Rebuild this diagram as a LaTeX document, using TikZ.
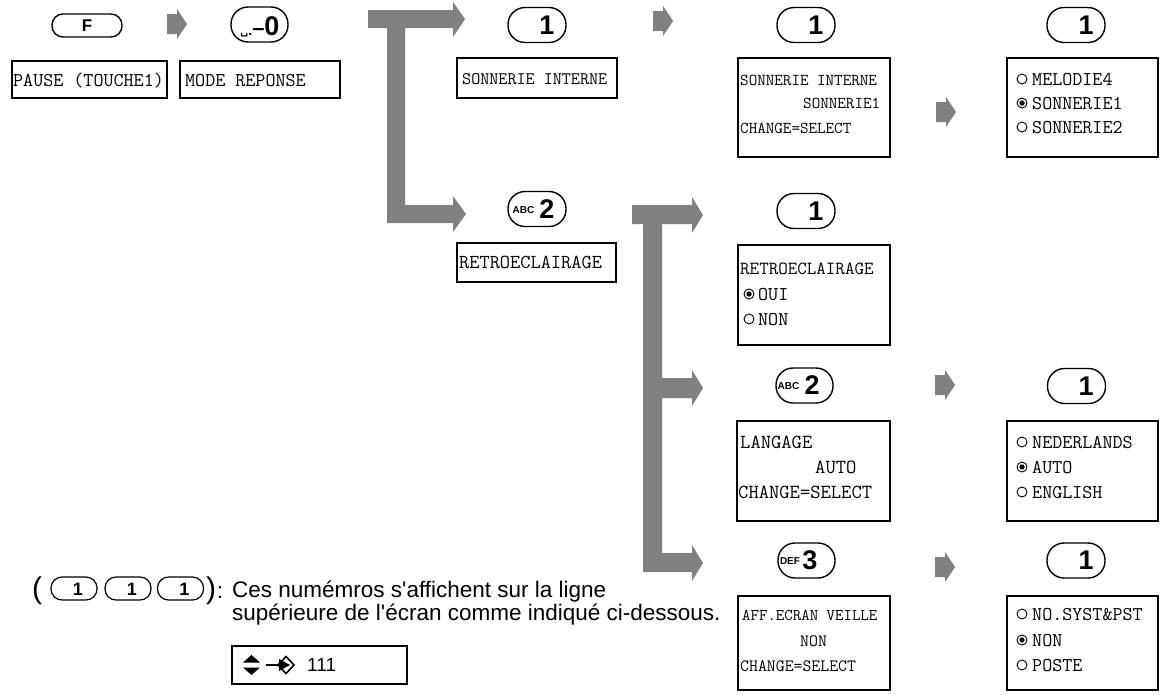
\documentclass[tikz,border=0pt]{standalone}
\usepackage{fontspec}
\usepackage{graphicx}
\newfontfamily\lsans{Liberation Sans}
\newfontfamily\djv{DejaVu Sans}
\definecolor{agray}{RGB}{128,128,128}
\tikzset{
  box/.style={draw, line width=1.4pt, inner sep=0, rectangle},
  keyA/.style={draw, line width=1.4pt, rounded corners=17pt, minimum width=58pt, minimum height=35pt, inner sep=0},
  keyF/.style={draw, line width=1.4pt, rounded corners=11pt, minimum width=70pt, minimum height=23pt, inner sep=0},
  keyS/.style={draw, line width=1.2pt, rounded corners=11pt, minimum width=46pt, minimum height=23pt, inner sep=0},
  lbl/.style={font=\lsans\bfseries\fontsize{27}{27}\selectfont, inner sep=0},
  lblsmall/.style={font=\lsans\bfseries\fontsize{10}{10}\selectfont, inner sep=0},
  tt/.style={font=\ttfamily\fontsize{19.5}{19.5}\selectfont, inner sep=0, anchor=base west},
  ttn/.style={font=\ttfamily\fontsize{16.6}{16.6}\selectfont, inner sep=0, anchor=base west},
  radio/.style={circle, draw, line width=0.9pt, minimum size=10pt, inner sep=0},
  radiosel/.style={radio, path picture={\fill (path picture bounding box.center) circle (2.7pt);}},
  sans/.style={font=\lsans\fontsize{22.5}{22.5}\selectfont, inner sep=0},
  sarrow/.pic={\fill[agray] (0,-10) -- (10,-10) -- (10,-15) -- (20,0) -- (10,15) -- (10,10) -- (0,10) -- cycle;}
}
\begin{document}
\begin{tikzpicture}[x=1pt,y=-1pt]
\useasboundingbox (0,0) rectangle (1160,694);

% ---------- Row 1 ----------
\node[keyF] (kF) at (87,25.5) {};
\node[font=\lsans\bfseries\fontsize{17}{17}\selectfont, inner sep=0] (lF) at (87,25.5) {F};
\pic at (167,24) {sarrow};
\node[keyA, minimum width=57pt] (k0) at (259.5,24.5) {};
\node[inner sep=0, anchor=base] (l0) at (260,35) {\lsans\bfseries\raisebox{1pt}{\djv\fontsize{11}{11}\selectfont ␣}{\fontsize{14}{14}\selectfont .}{\fontsize{22}{22}\selectfont –}\fontsize{27}{27}\selectfont 0};

\node[box, minimum width=155pt, minimum height=37pt] (bPause) at (89.5,79.5) {};
\node[tt] (tPause) at (13,86) {PAUSE (TOUCHE1)};
\node[box, minimum width=160pt, minimum height=37pt] (bMode) at (260,79.5) {};
\node[tt] (tMode) at (185,86) {MODE REPONSE};

% T arrow 1
\fill[agray] (368,10) -- (453,10) -- (453,2) -- (465,19) -- (453,37) -- (453,28) -- (405,28) -- (405,205)
  -- (453,205) -- (453,196) -- (466,214) -- (453,232) -- (453,223) -- (387,223) -- (387,28) -- (368,28) -- cycle;

\node[keyA] (k1a) at (537,25) {};
\node[lbl] (l1a) at (547,25) {1};
\node[box, minimum width=160pt, minimum height=40pt] (bSon1) at (537,78) {};
\node[tt, font=\ttfamily\fontsize{17.6}{17.6}\selectfont] (tSon1) at (462,84) {SONNERIE INTERNE};
\pic at (653,21) {sarrow};

\node[keyA] (k1b) at (806,25) {};
\node[lbl] (l1b) at (816,25) {1};
\node[box, minimum width=152pt, minimum height=99pt] (bSon2) at (814,107.5) {};
\node[ttn] (tSon2a) at (740,85) {SONNERIE INTERNE};
\node[ttn] (tSon2b) at (803,108) {SONNERIE1};
\node[ttn] (tSon2c) at (740,133) {CHANGE=SELECT};
\pic at (936,112) {sarrow};

\node[keyA] (k1c) at (1076,25) {};
\node[lbl] (l1c) at (1086,25) {1};
\node[box, minimum width=151pt, minimum height=99pt] (bSon3) at (1082.5,107.5) {};
\node[radio] (rS1) at (1022,79) {};
\node[radiosel] (rS2) at (1022,103) {};
\node[radio] (rS3) at (1022,127) {};
\node[tt] (tS1) at (1032,85) {MELODIE4};
\node[tt] (tS2) at (1032,109) {SONNERIE1};
\node[tt] (tS3) at (1032,133) {SONNERIE2};

% ---------- Row 2 ----------
\node[keyA] (k2a) at (537,209) {};
\node[lblsmall] (l2aa) at (523.5,210) {ABC};
\node[lbl] (l2ab) at (547,209) {2};
\node[box, minimum width=159pt, minimum height=39pt] (bRetro) at (536.5,262.5) {};
\node[tt, font=\ttfamily\fontsize{19.8}{19.8}\selectfont] (tRetro) at (459,268) {RETROECLAIRAGE};

% T arrow 2
\fill[agray] (632,205) -- (692,205) -- (692,197) -- (703,215) -- (692,233) -- (692,224) -- (662,224) -- (662,378)
  -- (692,378) -- (692,370) -- (703,388) -- (692,406) -- (692,398) -- (662,398) -- (662,553)
  -- (692,553) -- (692,545) -- (703,563) -- (692,581) -- (692,572) -- (643,572) -- (643,224) -- (632,224) -- cycle;

\node[keyA] (k1d) at (806,211) {};
\node[lbl] (l1d) at (816,211) {1};
\node[box, minimum width=152pt, minimum height=100pt] (bRetro2) at (814,295) {};
\node[tt, font=\ttfamily\fontsize{18.5}{18.5}\selectfont] (tR1) at (740,274) {RETROECLAIRAGE};
\node[radiosel] (rR1) at (749,294) {};
\node[tt] (tR2) at (758,300) {OUI};
\node[radio] (rR2) at (749,319) {};
\node[tt] (tR3) at (758,325) {NON};

% ---------- Row 3 ----------
\pic at (935,385) {sarrow};
\node[keyA, minimum width=57pt] (k3a) at (804.5,385.5) {};
\node[lblsmall] (l3aa) at (788.5,386) {ABC};
\node[lbl] (l3ab) at (812,385.5) {2};
\node[box, minimum width=153pt, minimum height=100pt] (bLang) at (813.5,471) {};
\node[tt, font=\ttfamily\fontsize{20}{20}\selectfont] (tL1) at (740,448) {LANGAGE};
\node[tt, font=\ttfamily\fontsize{20}{20}\selectfont] (tL2) at (815,473) {AUTO};
\node[tt, font=\ttfamily\fontsize{20}{20}\selectfont] (tL3) at (738,498) {CHANGE=SELECT};

\node[keyA] (k1e) at (1076.5,386) {};
\node[lbl] (l1e) at (1086,386) {1};
\node[box, minimum width=151pt, minimum height=100pt] (bLang2) at (1082.5,471) {};
\node[radio] (rL1) at (1022,442) {};
\node[radiosel] (rL2) at (1022,467) {};
\node[radio] (rL3) at (1022,492) {};
\node[tt] (tLa) at (1032,448) {NEDERLANDS};
\node[tt] (tLb) at (1032,473) {AUTO};
\node[tt] (tLc) at (1032,498) {ENGLISH};

% ---------- Row 4 ----------
\pic at (935,567) {sarrow};
\node[keyA, minimum width=57pt] (k4a) at (806.5,560.5) {};
\node[lblsmall] (l4aa) at (790,561) {DEF};
\node[lbl] (l4ab) at (810,560.5) {3};
\node[box, minimum width=152pt, minimum height=94pt] (bAff) at (814,643) {};
\node[ttn, font=\ttfamily\fontsize{16.4}{16.4}\selectfont] (tA1) at (742,620) {AFF.ECRAN VEILLE};
\node[tt, font=\ttfamily\fontsize{17.3}{17.3}\selectfont] (tA2) at (800,646) {NON};
\node[tt, font=\ttfamily\fontsize{17.3}{17.3}\selectfont] (tA3) at (740,671) {CHANGE=SELECT};

\node[keyA] (k1f) at (1076,560.5) {};
\node[lbl] (l1f) at (1086,560.5) {1};
\node[box, minimum width=151pt, minimum height=94pt] (bAff2) at (1082.5,643) {};
\node[radio] (rA1) at (1022,614) {};
\node[radiosel] (rA2) at (1022,640) {};
\node[radio] (rA3) at (1022,665) {};
\node[tt] (tAa) at (1032,620) {NO.SYST\&PST};
\node[tt] (tAb) at (1032,646) {NON};
\node[tt] (tAc) at (1032,671) {POSTE};

% ---------- Legend ----------
\node[font=\lsans\fontsize{30}{30}\selectfont, inner sep=0] (pL) at (37,591) {(};
\node[keyS] (kL1) at (74,588.5) {};
\node[font=\lsans\bfseries\fontsize{18}{18}\selectfont, inner sep=0] (lL1) at (78,589) {1};
\node[keyS] (kL2) at (128,588.5) {};
\node[font=\lsans\bfseries\fontsize{18}{18}\selectfont, inner sep=0] (lL2) at (132,589) {1};
\node[keyS] (kL3) at (180.5,588.5) {};
\node[font=\lsans\bfseries\fontsize{18}{18}\selectfont, inner sep=0] (lL3) at (184.5,589) {1};
\node[font=\lsans\fontsize{30}{30}\selectfont, inner sep=0] (pR) at (211,591) {)};
\node[sans, anchor=base] (colon) at (220,598) {:};
\node[sans, anchor=base west] (txt1) at (232,597) {Ces numémros s'affichent sur la ligne};
\node[sans, anchor=base west] (txt2) at (232,620) {supérieure de l'écran comme indiqué ci-dessous.};

\node[box, line width=1.2pt, minimum width=175pt, minimum height=38pt] (disp) at (319.5,665) {};
\fill (243,662.5) -- (260,662.5) -- (251.5,655) -- cycle;
\fill (243,667.5) -- (260,667.5) -- (251.5,675) -- cycle;
\draw[line width=2pt] (266,665) -- (282,665);
\fill (279,659) -- (290,665) -- (279,671) -- cycle;
\draw[line width=1.6pt, line join=miter] (286,656.5) -- (294,665) -- (286,673.5) -- (278,665) -- cycle;
\node[font=\lsans\fontsize{19}{19}\selectfont, inner sep=0, anchor=west] (n111) at (307,665) {111};
\end{tikzpicture}
\end{document}
